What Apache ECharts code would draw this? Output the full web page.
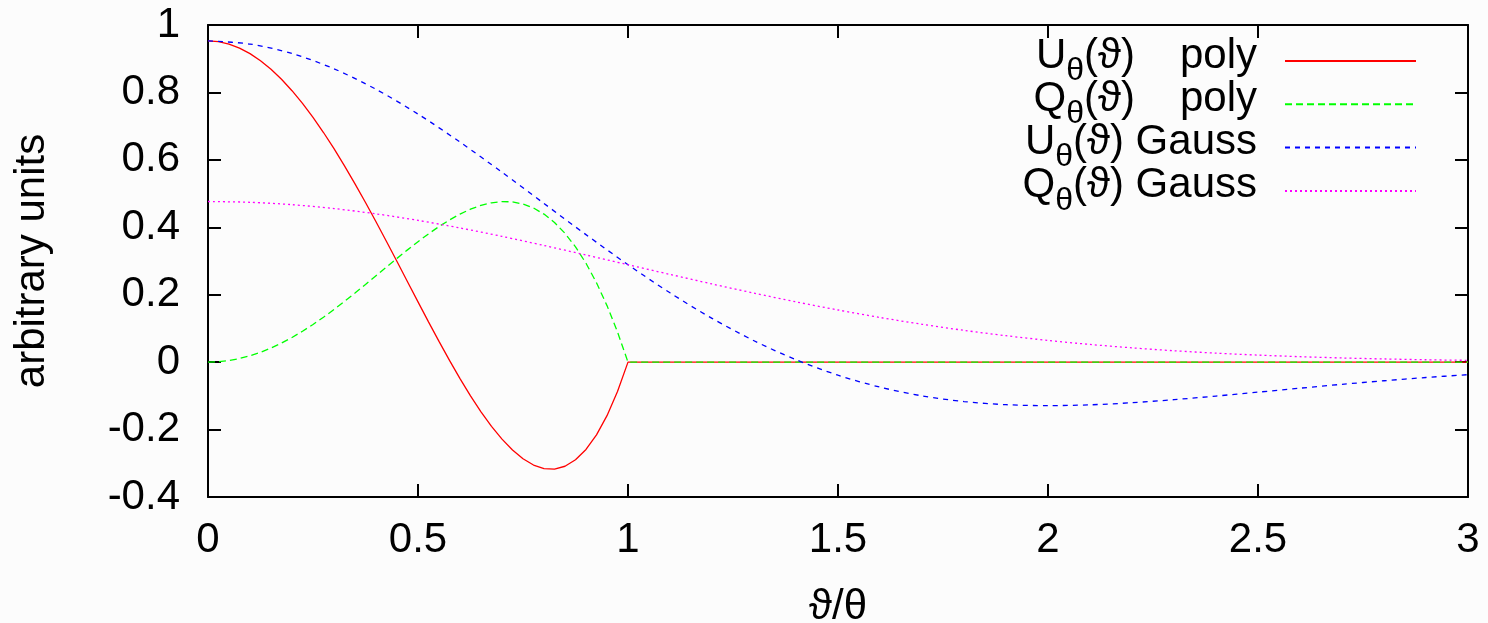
<!DOCTYPE html>
<html>
<head>
<meta charset="utf-8">
<script src="https://cdn.jsdelivr.net/npm/echarts@6/dist/echarts.min.js"></script>
<style>
  html, body { margin: 0; padding: 0; background: #fcfcfc; }
  #chart { width: 1488px; height: 623px; }
</style>
</head>
<body>
<div id="chart"></div>
<script>
// Sample positions (ϑ/θ) for the polynomial beam profiles
const polyX = [0, 0.025, 0.05, 0.075, 0.1, 0.125, 0.15, 0.175, 0.2, 0.225, 0.25, 0.275, 0.3, 0.325,
  0.35, 0.375, 0.4, 0.425, 0.45, 0.475, 0.5, 0.525, 0.55, 0.575, 0.6, 0.625, 0.65, 0.675, 0.7,
  0.725, 0.75, 0.775, 0.8, 0.825, 0.85, 0.875, 0.9, 0.925, 0.95, 0.975, 1.0, 3.0];
const uPoly = [0.953, 0.9506, 0.9435, 0.9316, 0.9152, 0.8941, 0.8687, 0.8389, 0.8051, 0.7673, 0.7259, 0.6811, 0.6331, 0.5823,
  0.5289, 0.4735, 0.4163, 0.3577, 0.2983, 0.2385, 0.1787, 0.1195, 0.0615, 0.0052, -0.0488, -0.0998, -0.1472, -0.1903, -0.2284,
  -0.2608, -0.2866, -0.3052, -0.3156, -0.3171, -0.3088, -0.2897, -0.2589, -0.2156, -0.1587, -0.0871, 0, 0];
const qPoly = [0, 0.0012, 0.0048, 0.0107, 0.0189, 0.0293, 0.0419, 0.0566, 0.0732, 0.0916, 0.1117, 0.1332, 0.1561, 0.1801,
  0.2049, 0.2303, 0.2562, 0.2821, 0.3078, 0.3330, 0.3574, 0.3805, 0.4022, 0.4218, 0.4391, 0.4537, 0.4651, 0.4727, 0.4763,
  0.4753, 0.4691, 0.4572, 0.4391, 0.4143, 0.3821, 0.3420, 0.2933, 0.2354, 0.1677, 0.0895, 0, 0];

// Sample positions (ϑ/θ) for the Gaussian beam profiles
const gaussX = [0, 0.1, 0.2, 0.3, 0.4, 0.5, 0.6, 0.7, 0.8, 0.9, 1.0, 1.1, 1.2, 1.3, 1.4, 1.5,
  1.6, 1.7, 1.8, 1.9, 2.0, 2.1, 2.2, 2.3, 2.4, 2.5, 2.6, 2.7, 2.8, 2.9, 3.0];
const uGauss = [0.953, 0.9435, 0.9154, 0.8701, 0.8093, 0.7359, 0.6527, 0.5632, 0.4706, 0.3782, 0.2890, 0.2056, 0.1299, 0.0635, 0.0072, -0.0387,
  -0.0742, -0.1000, -0.1169, -0.1262, -0.1290, -0.1266, -0.1203, -0.1113, -0.1006, -0.0890, -0.0772, -0.0658, -0.0552, -0.0456, -0.0371];
const qGauss = [0.4765, 0.4741, 0.4671, 0.4555, 0.4399, 0.4205, 0.3980, 0.3730, 0.3460, 0.3178, 0.2890, 0.2602, 0.2319, 0.2047, 0.1788, 0.1547,
  0.1325, 0.1123, 0.0943, 0.0784, 0.0645, 0.0525, 0.0424, 0.0338, 0.0267, 0.0209, 0.0162, 0.0124, 0.0095, 0.0071, 0.0053];

// Legend entries: [series name, quantity letter, model]
const legendEntries = [
  ['U poly', 'U', 'poly'],
  ['Q poly', 'Q', 'poly'],
  ['U Gauss', 'U', 'Gauss'],
  ['Q Gauss', 'Q', 'Gauss']
];

const xTicks = { min: 0, max: 3, interval: 0.5 };
const yTicks = { min: -0.4, max: 1, interval: 0.2 };

const pairs = (xs, ys) => xs.map((x, i) => [x, ys[i]]);

const FONT = '"Liberation Sans", Arial, Helvetica, "DejaVu Sans", sans-serif';
const frame = { show: true, onZero: false, lineStyle: { color: '#000', width: 2 } };
const ticksIn = { show: true, inside: true, length: 13, lineStyle: { color: '#000', width: 2 } };

const legendText = {};
legendEntries.forEach(([name, q, model]) => {
  legendText[name] = model === 'poly'
    ? `{m|${q}}{s|θ}{m|(ϑ)}{w|}{m|poly}{g|}`
    : `{m|${q}}{s|θ}{m|(ϑ) Gauss}{g|}`;
});

const chart = echarts.init(document.getElementById('chart'), null, { renderer: 'canvas' });

const lineSeries = (name, data, color, type, smooth) => ({
  name, type: 'line', data, symbol: 'none', animation: false, smooth,
  xAxisIndex: 0, yAxisIndex: 0,
  lineStyle: { color, width: 1.3, type },
  itemStyle: { color },
  emphasis: { disabled: true }
});

chart.setOption({
  backgroundColor: '#fcfcfc',
  animation: false,
  grid: { left: 208, right: 20, top: 25, bottom: 126, containLabel: false, outerBoundsMode: 'none' },
  legend: {
    orient: 'vertical',
    align: 'right',
    right: 71,
    top: 35,
    padding: 0,
    itemGap: -8.7,
    itemWidth: 131,
    itemHeight: 14,
    selectedMode: false,
    itemStyle: { opacity: 0 },
    data: legendEntries.map(e => e[0]),
    formatter: name => legendText[name],
    textStyle: {
      color: '#000',
      fontFamily: FONT,
      rich: {
        m: { fontSize: 42, lineHeight: 42, verticalAlign: 'top', color: '#000', fontFamily: FONT },
        s: { fontSize: 32, lineHeight: 22, verticalAlign: 'bottom', color: '#000', fontFamily: FONT },
        w: { width: 45, lineHeight: 42, verticalAlign: 'top' },
        g: { width: 23, lineHeight: 52 }
      }
    }
  },
  xAxis: [
    {
      type: 'value', position: 'bottom', ...xTicks,
      name: 'ϑ/θ', nameLocation: 'middle', nameGap: 89,
      nameTextStyle: { fontSize: 42, lineHeight: 42, color: '#000', fontFamily: FONT },
      axisLine: frame, axisTick: ticksIn, splitLine: { show: false },
      axisLabel: { show: true, margin: 22, fontSize: 42, lineHeight: 42, color: '#000', fontFamily: FONT,
        formatter: v => String(+v.toFixed(2)) }
    },
    {
      type: 'value', position: 'top', ...xTicks,
      axisLine: frame, axisTick: ticksIn, splitLine: { show: false }, axisLabel: { show: false }
    }
  ],
  yAxis: [
    {
      type: 'value', position: 'left', ...yTicks,
      name: 'arbitrary units', nameLocation: 'middle', nameGap: 155, nameRotate: 90,
      nameTextStyle: { fontSize: 42, lineHeight: 42, color: '#000', fontFamily: FONT },
      axisLine: frame, axisTick: ticksIn, splitLine: { show: false },
      axisLabel: { show: true, margin: 28, fontSize: 42, color: '#000', fontFamily: FONT,
        formatter: v => String(+v.toFixed(2)) }
    },
    {
      type: 'value', position: 'right', ...yTicks,
      axisLine: frame, axisTick: ticksIn, splitLine: { show: false }, axisLabel: { show: false }
    }
  ],
  series: [
    lineSeries('U poly', pairs(polyX, uPoly), '#ff0000', 'solid', false),
    lineSeries('Q poly', pairs(polyX, qPoly), '#00ff00', [7, 4], false),
    lineSeries('U Gauss', pairs(gaussX, uGauss), '#0000ff', [5, 5], 0.3),
    lineSeries('Q Gauss', pairs(gaussX, qGauss), '#ff00ff', [2, 3], 0.3)
  ]
});
</script>
</body>
</html>
